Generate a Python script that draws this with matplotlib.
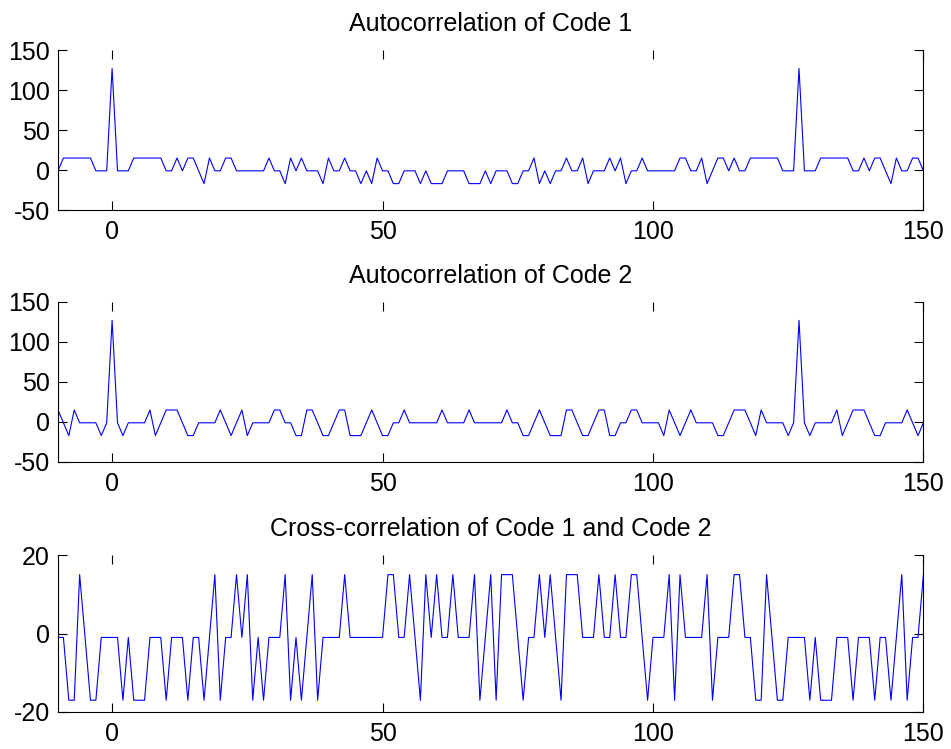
import numpy as np
import matplotlib
matplotlib.use('Agg')
import matplotlib.pyplot as plt

plt.rcParams['font.family'] = ['Liberation Sans', 'DejaVu Sans']
plt.rcParams['axes.unicode_minus'] = False

# lags shown on the x axis
lags = np.arange(-10, 151)

# periodic autocorrelation of code 1 (lag -10 .. 150)
acorr1 = [
    -1, 15, 15, 15, 15, 15, 15, -1, -1, -1,
    127, -1, -1, -1, 15, 15, 15, 15, 15, 15,
    -1, -1, 15, -1, 15, 15, -1, -17, 15, -1,
    -1, 15, 15, -1, -1, -1, -1, -1, -1, 15,
    -1, -1, -17, 15, -1, 15, -1, -1, -1, -17,
    15, -1, -1, 15, -1, -1, -17, -1, -17, 15,
    -1, -1, -17, -17, -1, -1, -1, -17, -1, -17,
    -17, -17, -1, -1, -1, -1, -17, -17, -17, -1,
    -17, -1, -1, -1, -17, -17, -1, -1, 15, -17,
    -1, -17, -1, -1, 15, -1, -1, 15, -17, -1,
    -1, -1, 15, -1, 15, -17, -1, -1, 15, -1,
    -1, -1, -1, -1, -1, 15, 15, -1, -1, 15,
    -17, -1, 15, 15, -1, 15, -1, -1, 15, 15,
    15, 15, 15, 15, -1, -1, -1, 127, -1, -1,
    -1, 15, 15, 15, 15, 15, 15, -1, -1, 15,
    -1, 15, 15, -1, -17, 15, -1, -1, 15, 15,
    -1,
]

# periodic autocorrelation of code 2
acorr2 = [
    15, -1, -17, 15, -1, -1, -1, -1, -17, -1,
    127, -1, -17, -1, -1, -1, -1, 15, -17, -1,
    15, 15, 15, -1, -17, -17, -1, -1, -1, -1,
    15, -1, -17, -1, 15, -17, -1, -1, -1, -1,
    15, 15, -1, -1, -17, -17, 15, 15, -1, -17,
    -17, -1, 15, 15, -17, -17, -17, -1, 15, -1,
    -17, -17, -1, -1, 15, -1, -1, -1, -1, -1,
    -1, 15, -1, -1, -1, -1, 15, -1, -1, -1,
    -1, -1, -1, 15, -1, -1, -17, -17, -1, 15,
    -1, -17, -17, -17, 15, 15, -1, -17, -17, -1,
    15, 15, -17, -17, -1, -1, 15, 15, -1, -1,
    -1, -1, -17, 15, -1, -17, -1, 15, -1, -1,
    -1, -1, -17, -17, -1, 15, 15, 15, -1, -17,
    15, -1, -1, -1, -1, -17, -1, 127, -1, -17,
    -1, -1, -1, -1, 15, -17, -1, 15, 15, 15,
    -1, -17, -17, -1, -1, -1, -1, 15, -1, -17,
    -1,
]

# periodic cross-correlation of code 1 and code 2
xcorr12 = [
    -1, -1, -17, -17, 15, -1, -17, -17, -1, -1,
    -1, -1, -17, -1, -17, -17, -17, -1, -1, -1,
    -17, -1, -1, -1, -17, -1, -1, -17, -1, 15,
    -17, -1, -1, 15, -1, 15, -17, -1, -17, -1,
    -1, -1, 15, -17, -1, -17, -1, 15, -17, -1,
    -1, -1, -1, 15, -1, -1, -1, -1, -1, -1,
    -1, 15, 15, -1, -1, 15, -1, -17, 15, -1,
    15, -1, -1, 15, -1, -1, -1, 15, -17, -1,
    15, -17, 15, 15, 15, -1, -17, -1, -1, 15,
    -1, 15, -1, -17, 15, 15, 15, -1, -1, -1,
    15, -1, -1, 15, -1, -1, 15, 15, -1, -17,
    -1, -1, -1, 15, -17, 15, -1, -1, -1, -1,
    15, -17, -1, -1, -1, 15, 15, -1, -1, -17,
    -17, 15, -1, -17, -17, -1, -1, -1, -1, -17,
    -1, -17, -17, -17, -1, -1, -1, -17, -1, -1,
    -1, -17, -1, -1, -17, -1, 15, -17, -1, -1,
    15,
]

titles = ['Autocorrelation of Code 1',
          'Autocorrelation of Code 2',
          'Cross-correlation of Code 1 and Code 2']
series = [acorr1, acorr2, xcorr12]
ylims = [(-50, 150), (-50, 150), (-20, 20)]
yticks = [[-50, 0, 50, 100, 150], [-50, 0, 50, 100, 150], [-20, 0, 20]]

fig = plt.figure(figsize=(9.51, 7.49), dpi=100)

# axes boxes in figure fractions (left, bottom, width, height)
boxes = [(0.061, 0.7196, 0.910, 0.2136),
         (0.061, 0.3832, 0.910, 0.2136),
         (0.061, 0.0494, 0.910, 0.2096)]

for box, y, title, yl, yt in zip(boxes, series, titles, ylims, yticks):
    ax = fig.add_axes(box)
    ax.plot(lags, y, color='#0000ff', lw=0.8)
    ax.set_xlim(-10, 150)
    ax.set_ylim(*yl)
    ax.set_xticks([0, 50, 100, 150])
    ax.set_yticks(yt)
    ax.set_title(title, fontsize=18, pad=14)
    ax.tick_params(direction='in', top=True, right=True, length=6.2,
                   width=0.8, labelsize=18)
    ax.tick_params(axis='x', pad=7)
    ax.tick_params(axis='y', pad=6)
    ax.spines['top'].set_visible(False)
    for s in ax.spines.values():
        s.set_linewidth(0.8)

fig.savefig('out.png', dpi=100)
